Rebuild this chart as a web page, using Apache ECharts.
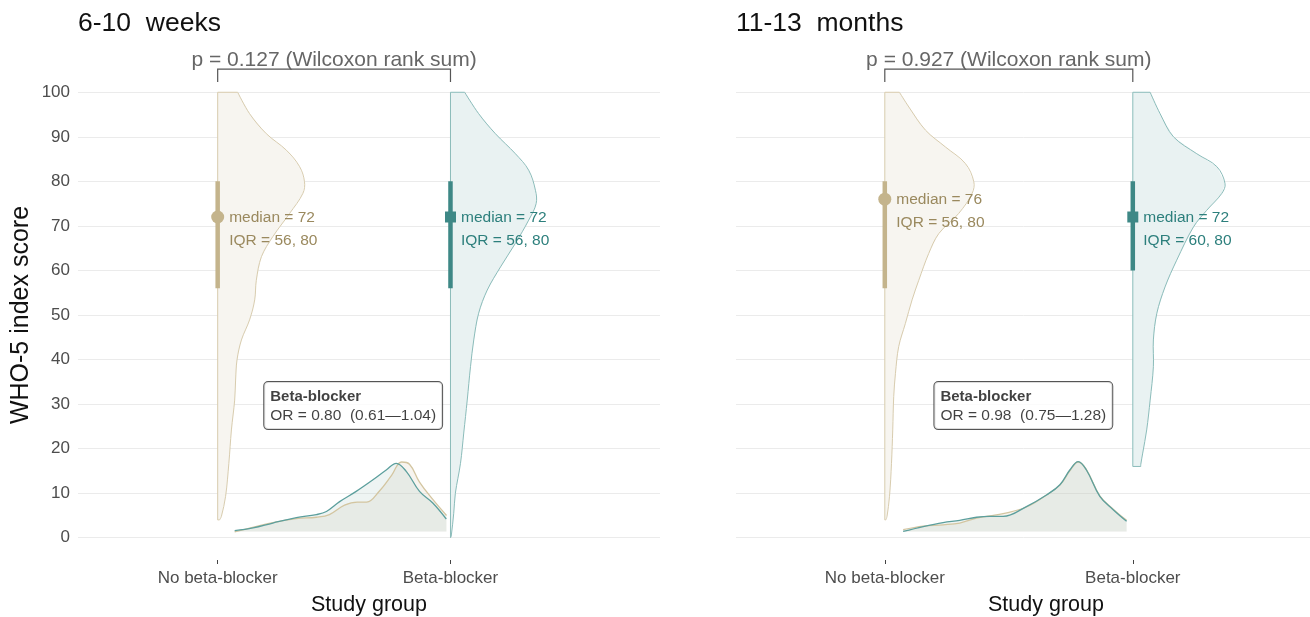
<!DOCTYPE html>
<html>
<head>
<meta charset="utf-8">
<title>WHO-5 index score by study group</title>
<script src="https://cdn.jsdelivr.net/npm/echarts@6/dist/echarts.min.js"></script>
<style>
  html, body { margin: 0; padding: 0; background: #ffffff; }
  #chart { width: 1310px; height: 617px; }
</style>
</head>
<body>
<div id="chart"></div>
<script>
// ---- data ----
const CATEGORIES = ['No beta-blocker', 'Beta-blocker'];
const PANEL_TITLES = ['6-10  weeks', '11-13  months'];
const P_VALUES = ['0.127', '0.927'];
const Y_TICKS = [0, 10, 20, 30, 40, 50, 60, 70, 80, 90, 100];
const MEDIANS_6W = [72, 72];
const MEDIANS_12M = [76, 72];
const IQR_6W = [[56, 80], [56, 80]];
const IQR_12M = [[56, 80], [60, 80]];
const OR_6W = ['0.80', '0.61', '1.04'];
const OR_12M = ['0.98', '0.75', '1.28'];

// half-violin profiles: [score, half width in category units]
const violin6wNo = [[100,0.086],[95.2,0.137],[90.7,0.209],[87.0,0.295],[83.3,0.352],[79.9,0.373],[77.3,0.366],[72.8,0.309],[67.6,0.237],[63.1,0.188],[57.8,0.166],[53.4,0.159],[48.9,0.137],[44.4,0.102],[39.9,0.083],[35.4,0.077],[30.9,0.073],[24.2,0.059],[16.7,0.048],[9.3,0.034],[4.8,0.016],[4.0,0.008]];
const violin6wBB = [[100,0.061],[95.2,0.121],[90.7,0.193],[86.2,0.279],[82.5,0.336],[78.0,0.365],[75.0,0.368],[71.3,0.336],[66.1,0.279],[60.8,0.215],[55.6,0.158],[50.4,0.121],[44.4,0.100],[38.4,0.086],[30.9,0.072],[23.5,0.057],[16.7,0.043],[10.0,0.021],[5.5,0.014],[0.3,0.003],[0,0]];
const violin12mNo = [[100,0.059],[96.7,0.097],[91.5,0.164],[87.7,0.245],[84.0,0.325],[79.9,0.359],[77.3,0.352],[72.8,0.298],[68.3,0.218],[63.8,0.177],[57.8,0.137],[53.4,0.110],[48.1,0.083],[42.9,0.056],[36.9,0.043],[31.7,0.036],[24.2,0.032],[16.7,0.027],[9.3,0.019],[4.8,0.009],[4.0,0.004]];
const violin12mBB = [[100,0.070],[95.2,0.110],[90.0,0.164],[86.2,0.258],[83.3,0.339],[79.5,0.372],[77.3,0.359],[73.5,0.298],[69.8,0.245],[62.3,0.177],[56.3,0.130],[50.4,0.097],[44.4,0.083],[38.4,0.083],[30.9,0.070],[24.2,0.056],[19.0,0.040],[16.4,0.032],[16.0,0.032]];

// score distributions laid out horizontally between the groups: [position, density height]
const density6wNo = [[1.073,1.3],[1.150,2.3],[1.237,3.4],[1.338,4.3],[1.424,4.6],[1.480,5.2],[1.545,7.3],[1.600,8.0],[1.640,8.0],[1.695,10.5],[1.747,14.0],[1.790,17.0],[1.824,16.5],[1.867,12.5],[1.924,8.6],[1.983,5.0]];
const density6wBB = [[1.073,1.6],[1.152,2.2],[1.237,3.3],[1.338,4.5],[1.424,5.2],[1.467,5.9],[1.524,8.1],[1.595,10.4],[1.667,13.0],[1.724,15.2],[1.767,16.7],[1.810,14.9],[1.867,10.4],[1.924,7.8],[1.982,4.2]];
const density12mNo = [[1.074,1.8],[1.155,2.6],[1.235,2.9],[1.302,3.3],[1.370,4.4],[1.423,4.9],[1.477,5.4],[1.571,6.9],[1.652,9.6],[1.706,11.8],[1.746,15.0],[1.780,17.0],[1.813,15.3],[1.867,9.4],[1.921,6.4],[1.975,3.9]];
const density12mBB = [[1.074,1.4],[1.155,2.5],[1.235,3.4],[1.302,3.9],[1.370,4.6],[1.423,4.8],[1.477,4.8],[1.571,7.0],[1.652,9.6],[1.706,11.9],[1.746,15.2],[1.780,17.1],[1.813,15.2],[1.867,9.3],[1.921,6.3],[1.975,3.7]];

// ---- styling ----
const FONT = '"Liberation Sans", Arial, Helvetica, sans-serif';
const TAN = { marker: '#c4b48c', text: '#9a895e', stroke: '#d8ccae', fill: '#f7f5f0', line: '#d3c5a0', area: 'rgba(215,205,180,0.30)' };
const TEAL = { marker: '#3e8886', text: '#2c7f7c', stroke: '#8bbcba', fill: '#e9f2f2', line: '#5c9f9d', area: 'rgba(175,205,200,0.30)' };
const GROUP_COLORS = [TAN, TEAL];

const panels = [
  { title: PANEL_TITLES[0], p: P_VALUES[0], medians: MEDIANS_6W, iqr: IQR_6W, or: OR_6W,
    violins: [violin6wNo, violin6wBB], densities: [density6wNo, density6wBB], left: 78, width: 582 },
  { title: PANEL_TITLES[1], p: P_VALUES[1], medians: MEDIANS_12M, iqr: IQR_12M, or: OR_12M,
    violins: [violin12mNo, violin12mBB], densities: [density12mNo, density12mBB], left: 736, width: 620 }
];

const grids = [], xAxes = [], yAxes = [], titles = [], series = [];

panels.forEach((pn, pi) => {
  // panel spans the score range padded by 5 points at each end
  grids.push({ left: pn.left, top: 70, width: pn.width, height: 490, outerBoundsMode: 'none', containLabel: false });
  titles.push({
    text: pn.title, left: pn.left - 5, top: 5,
    textStyle: { fontFamily: FONT, fontSize: 26.5, fontWeight: 'normal', color: '#111' }
  });
  xAxes.push({
    type: 'value', gridIndex: pi, min: 0.4, max: 2.9,
    axisLine: { show: false, onZero: false },
    axisTick: { show: true, customValues: [1, 2], length: 4, lineStyle: { color: '#444', width: 1 } },
    axisLabel: {
      customValues: [1, 2], margin: 10,
      formatter: v => CATEGORIES[Math.round(v) - 1] || '',
      fontFamily: FONT, fontSize: 17, color: '#4d4d4d'
    },
    splitLine: { show: false },
    name: 'Study group', nameLocation: 'middle', nameGap: 34,
    nameTextStyle: { fontFamily: FONT, fontSize: 21.5, color: '#111' }
  });
  yAxes.push({
    type: 'value', gridIndex: pi, min: -5, max: 105,
    axisLine: { show: false, onZero: false },
    axisTick: { show: false, customValues: Y_TICKS },
    axisLabel: { show: pi === 0, customValues: Y_TICKS, margin: 8, fontFamily: FONT, fontSize: 17, color: '#4d4d4d' },
    splitLine: { show: true, lineStyle: { color: '#ebebeb', width: 1 } },
    name: pi === 0 ? 'WHO-5 index score' : '', nameLocation: 'middle', nameRotate: 90, nameGap: 44,
    nameTextStyle: { fontFamily: FONT, fontSize: 25, color: '#111' }
  });

  // half violins: light fill, smoothed outer profile, straight centre edge
  pn.violins.forEach((profile, gi) => {
    const cx = gi + 1;
    const col = GROUP_COLORS[gi];
    const yTop = profile[0][0];
    const yBot = profile[profile.length - 1][0];
    series.push({
      type: 'custom', xAxisIndex: pi, yAxisIndex: pi, silent: true, z: 1,
      data: [[cx, yTop]],
      renderItem: (params, api) => {
        const outer = profile.map(([y, w]) => api.coord([cx + w, y]));
        const top = api.coord([cx, yTop]);
        const bot = api.coord([cx, yBot]);
        return {
          type: 'group',
          children: [
            { type: 'polygon', shape: { points: [top].concat(outer, [bot]) },
              style: { fill: col.fill, stroke: null } },
            { type: 'polyline', shape: { points: outer, smooth: 0.35 },
              style: { fill: null, stroke: col.stroke, lineWidth: 1 } },
            { type: 'polyline', shape: { points: [outer[0], top, bot, outer[outer.length - 1]] },
              style: { fill: null, stroke: col.stroke, lineWidth: 1 } }
          ]
        };
      }
    });
  });

  // horizontal densities
  pn.densities.forEach((d, gi) => {
    const col = GROUP_COLORS[gi];
    series.push({
      type: 'line', xAxisIndex: pi, yAxisIndex: pi, data: d, smooth: 0.4,
      showSymbol: false, silent: true, z: 2,
      lineStyle: { color: col.line, width: 1.3 },
      areaStyle: { color: col.area, origin: 1.4 }
    });
  });

  // IQR bars and medians
  pn.medians.forEach((m, gi) => {
    const cx = gi + 1;
    const col = GROUP_COLORS[gi];
    series.push({
      type: 'line', xAxisIndex: pi, yAxisIndex: pi, silent: true, z: 3,
      data: [[cx, pn.iqr[gi][0]], [cx, pn.iqr[gi][1]]],
      showSymbol: false, lineStyle: { color: col.marker, width: 4.5, cap: 'butt' }
    });
    series.push({
      type: 'scatter', xAxisIndex: pi, yAxisIndex: pi, silent: true, z: 4,
      data: [[cx, m]],
      symbol: gi === 0 ? 'circle' : 'rect',
      symbolSize: gi === 0 ? 13 : 11,
      itemStyle: { color: col.marker, opacity: 1 },
      label: {
        show: true, position: 'right', distance: 5, offset: [0, 12.5],
        formatter: () => 'median = ' + m + '\nIQR = ' + pn.iqr[gi][0] + ', ' + pn.iqr[gi][1],
        fontFamily: FONT, fontSize: 15.5, lineHeight: 23, color: col.text, align: 'left'
      }
    });
  });

  // odds ratio box
  series.push({
    type: 'scatter', xAxisIndex: pi, yAxisIndex: pi, silent: true, z: 5,
    data: [[1.2, 30]], symbolSize: 0,
    label: {
      show: true, position: 'right', distance: 0, offset: [0, 1.5],
      formatter: () => '{b|Beta-blocker}\n{n|OR = ' + pn.or[0] + '  (' + pn.or[1] + '\u2014' + pn.or[2] + ')}',
      backgroundColor: '#ffffff', borderColor: '#2b2b2b', borderWidth: 1, borderRadius: 4,
      padding: [5, 6, 4, 6],
      rich: {
        b: { fontFamily: FONT, fontSize: 15, fontWeight: 'bold', color: '#111', lineHeight: 19, align: 'left' },
        n: { fontFamily: FONT, fontSize: 15.5, color: '#111', lineHeight: 19, align: 'left' }
      }
    }
  });

  // Wilcoxon bracket
  series.push({
    type: 'custom', xAxisIndex: pi, yAxisIndex: pi, silent: true, z: 5,
    data: [[1.5, 105]],
    renderItem: (params, api) => {
      const a = api.coord([1, 102.3]), b = api.coord([1, 105.2]);
      const c = api.coord([2, 105.2]), d = api.coord([2, 102.3]);
      const t = api.coord([1.5, 107.3]);
      return {
        type: 'group',
        children: [
          { type: 'polyline', shape: { points: [a, b, c, d] }, style: { stroke: '#555', lineWidth: 1.2, fill: null } },
          { type: 'text', x: t[0], y: t[1],
            style: { text: 'p = ' + pn.p + ' (Wilcoxon rank sum)', fill: '#666', font: '21px ' + FONT, align: 'center', verticalAlign: 'middle' } }
        ]
      };
    }
  });
});

const chart = echarts.init(document.getElementById('chart'), null, { renderer: 'canvas' });
chart.setOption({
  backgroundColor: '#ffffff',
  animation: false,
  title: titles,
  grid: grids,
  xAxis: xAxes,
  yAxis: yAxes,
  series: series
});
</script>
</body>
</html>
